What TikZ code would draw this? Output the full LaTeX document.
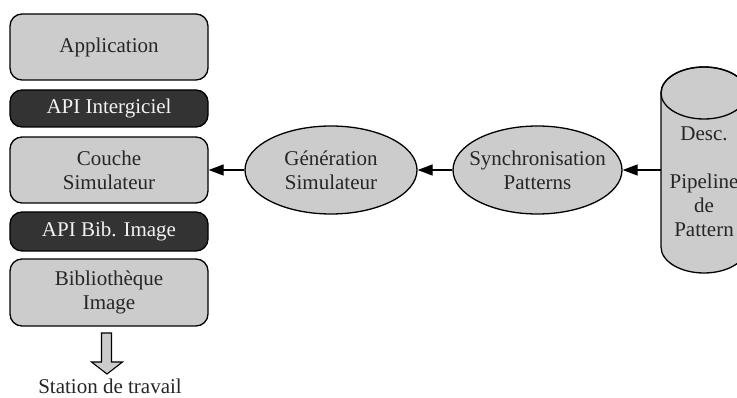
\documentclass[tikz,border=0pt]{standalone}
\usepackage{fontspec}
\setmainfont{Liberation Serif}
\usetikzlibrary{arrows.meta,shapes.geometric}
\definecolor{boxgray}{HTML}{CCCCCC}
\definecolor{apidark}{HTML}{333333}
\begin{document}
\begin{tikzpicture}[x=1pt,y=-1pt,
  every node/.style={font=\fontsize{21}{24}\selectfont, align=center, inner sep=0pt},
  layer/.style={draw=black, line width=1.3pt, fill=boxgray, rounded corners=12pt,
    minimum width=198pt, text=black!85},
  apibox/.style={layer, fill=apidark, text=white!95!black},
  process/.style={draw=black, line width=1.3pt, fill=boxgray, ellipse,
    inner xsep=-11pt, minimum height=88pt, text=black!85},
  flow/.style={line width=1.3pt, -{Triangle[length=15pt,width=11pt]}}]
\clip (0,0) rectangle (737,398);

% software layers
\node[layer, minimum height=66pt] (app) at (109,47) {Application};
\node[apibox, minimum height=37pt] (apimw) at (109,108.5) {API Intergiciel};
\node[layer, minimum height=66pt] (sim) at (109,170) {Couche\\Simulateur};
\node[apibox, minimum height=39pt] (apiimg) at (109,231.5) {API Bib. Image};
\node[layer, minimum height=67pt] (lib) at (109,292.5) {Bibliothèque\\Image};

% block arrow down to the workstation
\draw[line width=1.1pt, fill=boxgray]
  (101.5,333) -- (111.5,333) -- (111.5,362) -- (122.5,362) -- (107,374)
  -- (91.5,362) -- (101.5,362) -- cycle;
\node[text=black!85] (ws) at (110,386) {Station de travail};

% processing chain
\node[process, minimum width=172pt] (gen) at (331,170) {Génération\\Simulateur};
\node[process, minimum width=169pt] (sync) at (537.5,170) {Synchronisation\\Patterns};

% pattern description store
\draw[line width=1.3pt, fill=boxgray]
  (661,93) -- (661,247) arc[start angle=180, end angle=0, x radius=43, y radius=26]
  -- (747,93) arc[start angle=0, end angle=-180, x radius=43, y radius=26] -- cycle;
\draw[line width=1.3pt] (704,93) ellipse[x radius=43, y radius=26];
\node[minimum width=86pt, minimum height=154pt, text=black!85] (desc) at (704,182)
  {Desc.\\[24pt]Pipeline\\de\\Pattern};

% connectors
\draw[flow] (desc.west |- sync.east) -- (sync.east);
\draw[flow] (sync.west) -- (gen.east);
\draw[flow] (gen.west) -- (sim.east);
\end{tikzpicture}
\end{document}
